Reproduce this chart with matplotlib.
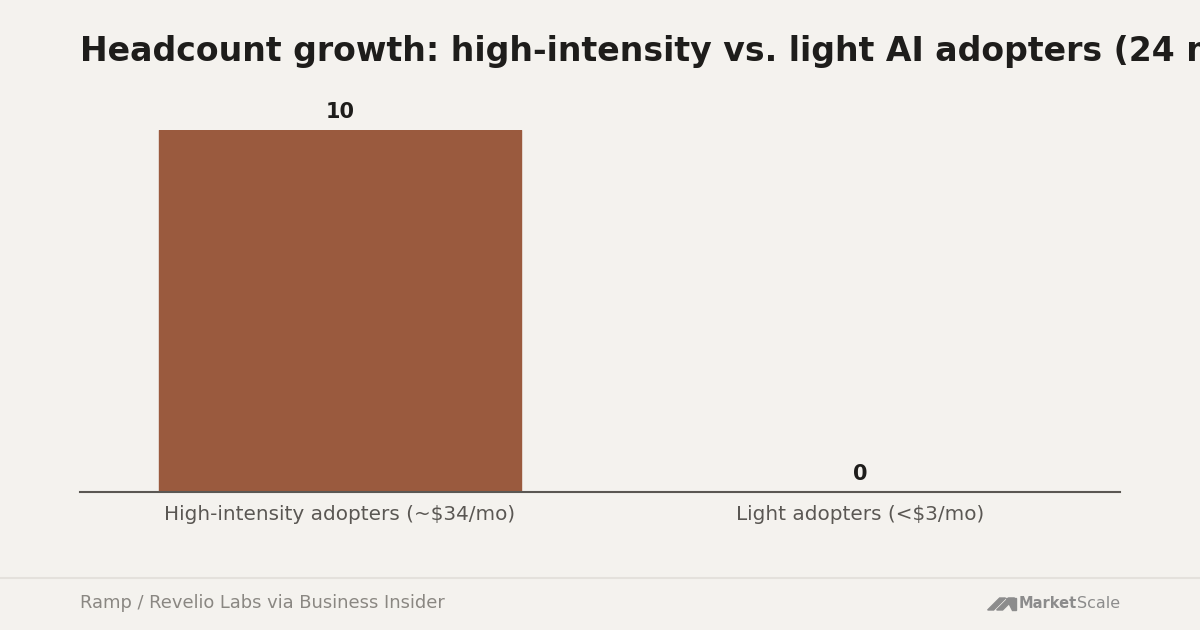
import matplotlib.pyplot as plt
from matplotlib.patches import Polygon

plt.rcParams["font.family"] = ["DejaVu Sans"]

# Headcount growth over 24 months, percent
categories = ["High-intensity adopters (~$34/mo)", "Light adopters (<$3/mo)"]
growth = [10, 0]
value_labels = ["10", "0"]

title = "Headcount growth: high-intensity vs. light AI adopters (24 months)"
source = "Ramp / Revelio Labs via Business Insider"

BG = "#f4f2ee"
BAR = "#9a5a3e"
INK = "#1e1d1b"
GREY = "#5a5753"
MUTED = "#8a8782"

W, H = 1200, 630
fig = plt.figure(figsize=(W / 100, H / 100), dpi=100, facecolor=BG)

ax = fig.add_axes([80 / W, (H - 492) / H, 1040 / W, 362 / H])
ax.set_facecolor(BG)

x = range(len(categories))
bars = ax.bar(x, growth, width=0.698, color=BAR, edgecolor=BAR,
              linewidth=1.0, joinstyle="round", zorder=2)
ax.set_xlim(-0.5, len(categories) - 0.5)
ax.set_ylim(0, max(growth))

for b, lab in zip(bars, value_labels):
    ax.annotate(lab, (b.get_x() + b.get_width() / 2, b.get_height()),
                xytext=(0, 6), textcoords="offset points",
                ha="center", va="bottom", fontsize=15, fontweight="bold",
                color=INK, annotation_clip=False)

ax.set_xticks(list(x))
ax.set_xticklabels(categories, fontsize=14.4, color=GREY)
ax.tick_params(axis="x", length=0, pad=9)
ax.set_yticks([])
for s in ["top", "right", "left"]:
    ax.spines[s].set_visible(False)
ax.spines["bottom"].set_color(GREY)
ax.spines["bottom"].set_linewidth(1.5)
ax.spines["bottom"].set_zorder(3)

# title (runs off the right edge, as in the original)
fig.text(80 / W, (H - 61) / H, title, fontsize=23.9, fontweight="bold",
         color=INK, ha="left", va="baseline")

# footer
fig.add_artist(plt.Line2D([0, 1], [(H - 578) / H] * 2, color="#e4e1dc",
                          linewidth=1.5, transform=fig.transFigure))
fig.text(80 / W, (H - 603) / H, source, fontsize=12.9, color=MUTED,
         ha="left", va="center")

# MarketScale wordmark
t2 = fig.text(1120 / W, (H - 604) / H, "Scale", fontsize=11.5, color="#8c8c8c",
              ha="right", va="center")
fig.canvas.draw()
bb = t2.get_window_extent()
t1 = fig.text(bb.x0 / W, (H - 604) / H, "Market", fontsize=10.5,
              color="#8c8c8c", ha="right", va="center", fontweight="bold")
fig.canvas.draw()
bb1 = t1.get_window_extent()
x0 = bb1.x0 - 3
ylo, yhi = H - 610, H - 598
for dx in (0, 9):
    poly = [(x0 - 28 + dx, ylo), (x0 - 22 + dx, ylo),
            (x0 - 10 + dx, yhi), (x0 - 16 + dx, yhi)]
    fig.add_artist(Polygon([(px / W, py / H) for px, py in poly],
                           closed=True, color="#8c8c8c",
                           transform=fig.transFigure))
fig.add_artist(Polygon([((x0 - 4) / W, ylo / H), (x0 / W, ylo / H),
                        (x0 / W, yhi / H), ((x0 - 10) / W, yhi / H)],
                       closed=True, color="#8c8c8c",
                       transform=fig.transFigure))

fig.savefig("out.png", dpi=100, facecolor=BG)
